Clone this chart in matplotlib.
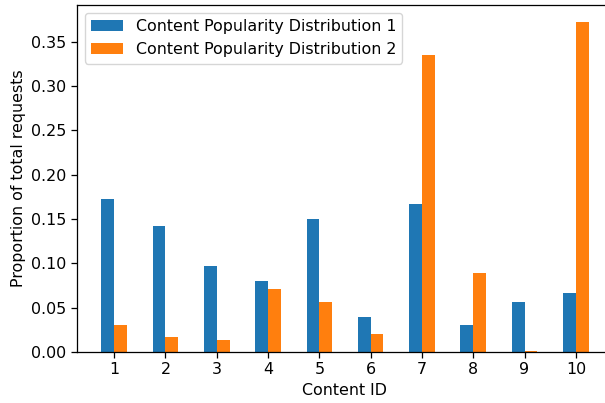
import numpy as np
import matplotlib.pyplot as plt

# Content IDs and request shares for both popularity distributions
content_ids = np.arange(1, 11)
dist1 = [0.173, 0.142, 0.097, 0.0805, 0.150, 0.040, 0.167, 0.031, 0.056, 0.066]
dist2 = [0.031, 0.0165, 0.013, 0.0705, 0.056, 0.020, 0.3345, 0.0895, 0.001, 0.3727]

width = 0.25

s = 1.14
plt.rcParams.update({
    "font.size": 10 * s,
    "axes.linewidth": 0.8 * s,
    "xtick.major.size": 3.5 * s,
    "ytick.major.size": 3.5 * s,
    "xtick.major.width": 0.8 * s,
    "ytick.major.width": 0.8 * s,
})

fig = plt.figure(figsize=(6.05, 4.03), dpi=100)
ax = fig.add_axes([77 / 605, 51 / 403, 536 / 605, 347 / 403])

ax.bar(content_ids - width / 2, dist1, width, label="Content Popularity Distribution 1")
ax.bar(content_ids + width / 2, dist2, width, label="Content Popularity Distribution 2")

ax.set_xticks(content_ids)
ax.set_xlabel("Content ID")
ax.set_ylabel("Proportion of total requests")
ax.legend(loc="upper left")

fig.savefig("out.png", dpi=100)
